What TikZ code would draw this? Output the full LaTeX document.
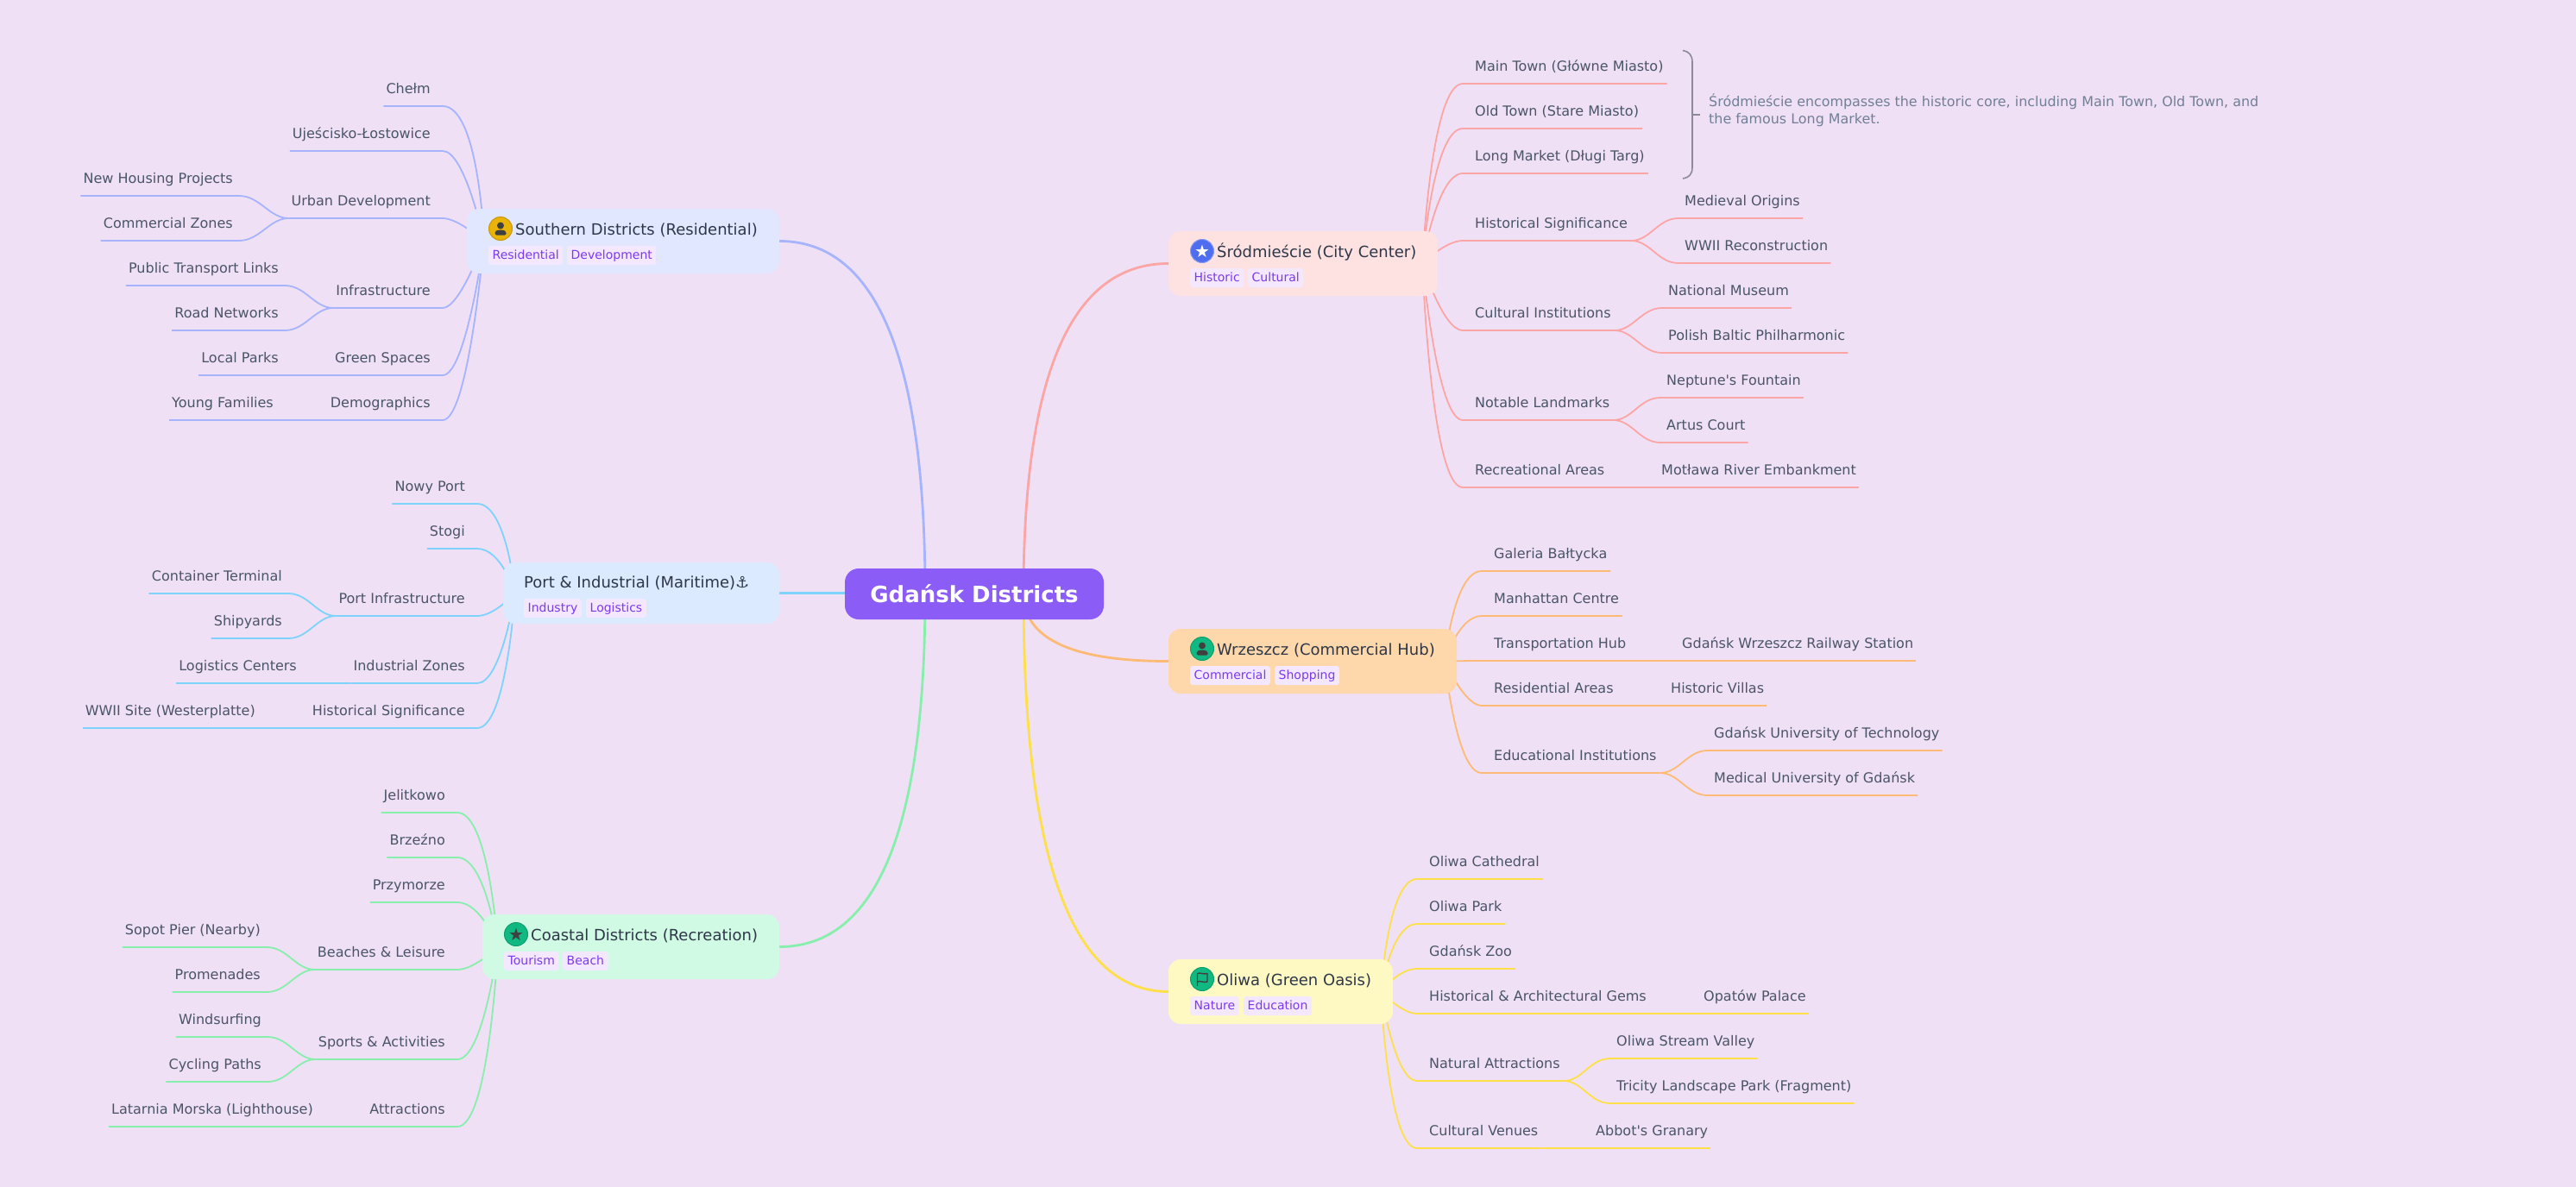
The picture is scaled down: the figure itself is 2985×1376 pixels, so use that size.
\documentclass[tikz,border=0pt]{standalone}
\usepackage{fontspec}
\setmainfont{DejaVu Sans}[Ligatures=TeXOff]
\usetikzlibrary{calc, backgrounds}

\definecolor{pg}{HTML}{F0E0F5}
\definecolor{rootc}{HTML}{8B5CF6}
\definecolor{hubtxt}{HTML}{2D3748}
\definecolor{leaftxt}{HTML}{4A5568}
\definecolor{notetxt}{HTML}{718096}
\definecolor{notebr}{HTML}{8A8A99}
\definecolor{tagbg}{HTML}{F3E8FF}
\definecolor{tagtxt}{HTML}{7C3AED}
\definecolor{lnsouth}{HTML}{A5B4FC}
\definecolor{lnport}{HTML}{7DD3FC}
\definecolor{lncoast}{HTML}{86EFAC}
\definecolor{lnsrod}{HTML}{FCA5A5}
\definecolor{lnwrz}{HTML}{FDBA74}
\definecolor{lnoli}{HTML}{FDE047}
\definecolor{bxsouth}{HTML}{E0E7FF}
\definecolor{bxport}{HTML}{DBEAFE}
\definecolor{bxcoast}{HTML}{D1FAE5}
\definecolor{bxsrod}{HTML}{FEE2E2}
\definecolor{bxwrz}{HTML}{FED7AA}
\definecolor{bxoli}{HTML}{FEF9C3}
\definecolor{icyel}{HTML}{EAB308}
\definecolor{icgrn}{HTML}{10B981}
\definecolor{icblu}{HTML}{4F6EEF}
\definecolor{icdark}{HTML}{404040}

\tikzset{ lf/.style = { inner sep    = 0pt
                      , text = leaftxt
                      , text height  = 13pt
                      , text depth   = 14.4pt
                      , font = \fontsize{16}{19}\selectfont
                      },
          lr/.style = { lf
                      , anchor = south west
                      , execute at begin node = \hspace{14pt}
                      , execute at end node   = \hspace{4pt}
                      },
          ll/.style = { lf
                      , anchor = south east
                      , execute at begin node = \hspace{3pt}
                      , execute at end node   = \hspace{14pt}
                      },
          sr/.style = { lf
                      , anchor = south west
                      , execute at begin node = \hspace{7pt}
                      , execute at end node   = \hspace{3pt}
                      },
          sl/.style = { lf
                      , anchor = south east
                      , execute at begin node = \hspace{3pt}
                      , execute at end node   = \hspace{7pt}
                      },
          hb/.style = { rectangle
                      , rounded corners = 14pt
                      , inner sep    = 0pt
                      },
          ht/.style = { anchor = base west
                      , inner sep    = 0pt
                      , text = hubtxt
                      , font = \fontsize{18}{22}\selectfont
                      },
          tg/.style = { anchor = west
                      , fill = tagbg
                      , text = tagtxt
                      , rounded corners = 3pt
                      , inner xsep   = 4.5pt
                      , inner ysep   = 4.5pt
                      , text height  = 11pt
                      , text depth   = 2pt
                      , font = \fontsize{14}{17}\selectfont
                      },
          ic/.style = { circle
                      , draw, line width = 1pt
                      , inner sep    = 0pt
                      , minimum size = 27pt
                      },
          sb/.style = { line width = 1.8pt },
          ml/.style = { line width = 2.8pt },
          person/.pic = { \fill[icdark] (0,-3.5) circle (4);
                          \fill[icdark, rounded corners=1.5pt] (-6.5,7.5) -- (-6.5,3.5) -- (-3,1.5) -- (3,1.5) -- (6.5,3.5) -- (6.5,7.5) -- cycle;
                        },
          flag/.pic = { \draw[icdark, line width=1.4pt, line join=round]
                            (-5.5,8) -- (-5.5,-6.5) .. controls (-2,-8) and (1,-5) .. (6,-6.5)
                            -- (6,3) .. controls (1,4.5) and (-2,1.5) .. (-5.5,3);
                      }
        }

% curve out of a hub, then along the leaf
\newcommand{\lkR}[3][30]{\draw (#2S) .. controls (#2S) and ([xshift=-#1pt]#3.south west) .. (#3.south west) -- (#3.south east);}
\newcommand{\lkL}[3][30]{\draw (#2S) .. controls (#2S) and ([xshift=#1pt]#3.south east) .. (#3.south east) -- (#3.south west);}
\newcommand{\subR}[2]{\draw (#1.south east) .. controls ([xshift=22pt]#1.south east) and ([xshift=-24pt]#2.south west) .. (#2.south west) -- (#2.south east);}
\newcommand{\subL}[2]{\draw (#1.south west) .. controls ([xshift=-22pt]#1.south west) and ([xshift=24pt]#2.south east) .. (#2.south east) -- (#2.south west);}
\newcommand{\mlk}[3]{\draw[ml, #1] (#2) .. controls ($(#2)!.667!(#2|-#3)$) and ($(#3)!.667!(#2|-#3)$) .. (#3);}

\begin{document}
\begin{tikzpicture}[x=1pt, y=-1pt]
\begin{pgfonlayer}{background}
  \path[use as bounding box, fill=pg] (0,0) rectangle (2985,1376);
\end{pgfonlayer}

\node[rectangle, rounded corners=16pt, fill=rootc, text=white, inner sep=0pt, minimum width=300pt, minimum height=59pt, font=\fontsize{26}{31}\selectfont\bfseries] (root) at (1129,688.5) {Gdańsk Districts};
\coordinate (rootL) at (1072,688);
\coordinate (rootR) at (1186,688);

% hubs
\node[hb, fill=bxsouth, minimum width=362pt, minimum height=75pt] (south) at (722,279.5) {};
\node[hb, fill=bxport,  minimum width=320pt, minimum height=71pt] (port)  at (743,687.5) {};
\node[hb, fill=bxcoast, minimum width=344pt, minimum height=75pt] (coast) at (731,1097.5) {};
\node[hb, fill=bxsrod,  minimum width=312pt, minimum height=75pt] (srod)  at (1510,305.5) {};
\node[hb, fill=bxwrz,   minimum width=334pt, minimum height=75pt] (wrz)   at (1521,766.5) {};
\node[hb, fill=bxoli,   minimum width=260pt, minimum height=75pt] (oli)   at (1484,1149.5) {};
\coordinate (southS) at ([xshift=20pt]south.west);
\coordinate (portS)  at ([xshift=14pt]port.west);
\coordinate (coastS) at ([xshift=18pt]coast.west);
\coordinate (srodS)  at ([xshift=-18pt]srod.east);
\coordinate (wrzS)   at ([xshift=-14pt]wrz.east);
\coordinate (oliS)   at ([xshift=-14pt]oli.east);

\node[ic, fill=icyel, draw=icyel!85!black] (southic) at (580,265) {};
\pic at (southic) {person};
\node[ht] (southt) at (597,272) {Southern Districts (Residential)};
\node[tg] (south1) at (566,296) {Residential};
\node[tg] (south2) at (657,296) {Development};

\node[ht] (portt) at (607,681) {Port \& Industrial (Maritime)⚓};
\node[tg] (port1) at (607,705) {Industry};
\node[tg] (port2) at (679,705) {Logistics};

\node[ic, fill=icgrn, draw=icgrn!85!black, text=icdark, font=\fontsize{20}{20}\selectfont] (coastic) at (598,1083) {★};
\node[ht] (coastt) at (615,1090) {Coastal Districts (Recreation)};
\node[tg] (coast1) at (584,1114) {Tourism};
\node[tg] (coast2) at (652,1114) {Beach};

\node[ic, fill=icblu, draw=icblu!70!white, text=white, font=\fontsize{20}{20}\selectfont] (srodic) at (1393,291) {★};
\node[ht] (srodt) at (1410,298) {Śródmieście (City Center)};
\node[tg] (srod1) at (1379,322) {Historic};
\node[tg] (srod2) at (1446,322) {Cultural};

\node[ic, fill=icgrn, draw=icgrn!85!black] (wrzic) at (1393,752) {};
\pic at (wrzic) {person};
\node[ht] (wrzt) at (1410,759) {Wrzeszcz (Commercial Hub)};
\node[tg] (wrz1) at (1379,783) {Commercial};
\node[tg] (wrz2) at (1477,783) {Shopping};

\node[ic, fill=icgrn, draw=icgrn!85!black] (oliic) at (1393,1135) {};
\pic at (oliic) {flag};
\node[ht] (olit) at (1410,1142) {Oliwa (Green Oasis)};
\node[tg] (oli1) at (1379,1166) {Nature};
\node[tg] (oli2) at (1441,1166) {Education};

% southern districts
\node[ll] (chelm) at (513,123) {Chełm};
\node[ll] (ujes)  at (513,175) {Ujeścisko-Łostowice};
\node[ll] (urban) at (513,253) {Urban Development};
\node[ll] (infra) at (513,357) {Infrastructure};
\node[ll] (green) at (513,435) {Green Spaces};
\node[ll] (demo)  at (513,487) {Demographics};
\node[sl] (newh)  at (277,227) {New Housing Projects};
\node[sl] (comz)  at (277,279) {Commercial Zones};
\node[sl] (pubt)  at (330,331) {Public Transport Links};
\node[sl] (road)  at (330,383) {Road Networks};
\node[sl] (parks) at (330,435) {Local Parks};
\node[sl] (young) at (324,487) {Young Families};

% port
\node[ll] (nowy)  at (553,584) {Nowy Port};
\node[ll] (stogi) at (553,636) {Stogi};
\node[ll] (pinf)  at (553,714) {Port Infrastructure};
\node[ll] (indz)  at (553,792) {Industrial Zones};
\node[ll] (hist)  at (553,844) {Historical Significance};
\node[sl] (cont)  at (334,688) {Container Terminal};
\node[sl] (ship)  at (334,740) {Shipyards};
\node[sl] (logc)  at (351,792) {Logistics Centers};
\node[sl] (west)  at (303,844) {WWII Site (Westerplatte)};

% coast
\node[ll] (jeli)  at (530,942) {Jelitkowo};
\node[ll] (brze)  at (530,994) {Brzeźno};
\node[ll] (przy)  at (530,1046) {Przymorze};
\node[ll] (beach) at (530,1124) {Beaches \& Leisure};
\node[ll] (sport) at (530,1228) {Sports \& Activities};
\node[ll] (attr)  at (530,1306) {Attractions};
\node[sl] (sopot) at (309,1098) {Sopot Pier (Nearby)};
\node[sl] (prom)  at (309,1150) {Promenades};
\node[sl] (wind)  at (310,1202) {Windsurfing};
\node[sl] (cycl)  at (310,1254) {Cycling Paths};
\node[sl] (lata)  at (370,1306) {Latarnia Morska (Lighthouse)};

% srodmiescie
\node[lr] (main)  at (1695,97) {Main Town (Główne Miasto)};
\node[lr] (old)   at (1695,149) {Old Town (Stare Miasto)};
\node[lr] (long)  at (1695,201) {Long Market (Długi Targ)};
\node[lr] (hsig)  at (1695,279) {Historical Significance};
\node[lr] (cinst) at (1695,383) {Cultural Institutions};
\node[lr] (land)  at (1695,487) {Notable Landmarks};
\node[lr] (recr)  at (1695,565) {Recreational Areas};
\node[sr] (medi)  at (1945,253) {Medieval Origins};
\node[sr] (recon) at (1945,305) {WWII Reconstruction};
\node[sr] (natm)  at (1926,357) {National Museum};
\node[sr] (phil)  at (1926,409) {Polish Baltic Philharmonic};
\node[sr] (nept)  at (1924,461) {Neptune's Fountain};
\node[sr] (artus) at (1924,513) {Artus Court};
\node[sr] (motl)  at (1918,565) {Motława River Embankment};

% wrzeszcz
\node[lr] (gal)   at (1717,662) {Galeria Bałtycka};
\node[lr] (manh)  at (1717,714) {Manhattan Centre};
\node[lr] (trans) at (1717,766) {Transportation Hub};
\node[lr] (resa)  at (1717,818) {Residential Areas};
\node[lr] (edu)   at (1717,896) {Educational Institutions};
\node[sr] (rail)  at (1942,766) {Gdańsk Wrzeszcz Railway Station};
\node[sr] (vill)  at (1929,818) {Historic Villas};
\node[sr] (univ)  at (1979,870) {Gdańsk University of Technology};
\node[sr] (medu)  at (1979,922) {Medical University of Gdańsk};

% oliwa
\node[lr] (cath)  at (1642,1019) {Oliwa Cathedral};
\node[lr] (opark) at (1642,1071) {Oliwa Park};
\node[lr] (zoo)   at (1642,1123) {Gdańsk Zoo};
\node[lr] (gems)  at (1642,1175) {Historical \& Architectural Gems};
\node[lr] (natur) at (1642,1253) {Natural Attractions};
\node[lr] (venue) at (1642,1331) {Cultural Venues};
\node[sr] (opat)  at (1967,1175) {Opatów Palace};
\node[sr] (strm)  at (1866,1227) {Oliwa Stream Valley};
\node[sr] (tric)  at (1866,1279) {Tricity Landscape Park (Fragment)};
\node[sr] (abbot) at (1842,1331) {Abbot's Granary};

% summary
\node[anchor=north west, align=left, inner sep=0pt, text=notetxt, font=\fontsize{15.9}{19.5}\selectfont] (note) at (1980,109) {Śródmieście encompasses the historic core, including Main Town, Old Town, and\\the famous Long Market.};
\coordinate (brtop) at (1950,58.5);
\coordinate (brbot) at (1950,207);
\coordinate (brmid) at (1961,133);
\draw[notebr, line width=1.6pt] (brtop) .. controls (1957,59.5) and (1961,64) .. (1961,72) -- (1961,194) .. controls (1961,202) and (1957,206) .. (brbot);
\draw[notebr, line width=1.6pt] (brmid) -- (1970,133);

\begin{pgfonlayer}{background}
  \mlk{lnsouth}{rootL}{south.east}
  \mlk{lnport}{rootL}{port.east}
  \mlk{lncoast}{rootL}{coast.east}
  \mlk{lnsrod}{rootR}{srod.west}
  \mlk{lnwrz}{rootR}{wrz.west}
  \mlk{lnoli}{rootR}{oli.west}

  \begin{scope}[sb, lnsouth]
    \lkL[42]{south}{chelm} \lkL[26]{south}{ujes} \lkL[18]{south}{urban}
    \lkL[20]{south}{infra} \lkL[27]{south}{green} \lkL[30]{south}{demo}
    \subL{urban}{newh} \subL{urban}{comz} \subL{infra}{pubt} \subL{infra}{road}
    \subL{green}{parks} \subL{demo}{young}
  \end{scope}
  \begin{scope}[sb, lnport]
    \lkL[34]{port}{nowy} \lkL[28]{port}{stogi} \lkL[20]{port}{pinf}
    \lkL[28]{port}{indz} \lkL[34]{port}{hist}
    \subL{pinf}{cont} \subL{pinf}{ship} \subL{indz}{logc} \subL{hist}{west}
  \end{scope}
  \begin{scope}[sb, lncoast]
    \lkL[37]{coast}{jeli} \lkL[33]{coast}{brze} \lkL[28]{coast}{przy}
    \lkL[20]{coast}{beach} \lkL[30]{coast}{sport} \lkL[37]{coast}{attr}
    \subL{beach}{sopot} \subL{beach}{prom} \subL{sport}{wind} \subL{sport}{cycl}
    \subL{attr}{lata}
  \end{scope}
  \begin{scope}[sb, lnsrod]
    \lkR[37]{srod}{main} \lkR[35]{srod}{old} \lkR[30]{srod}{long}
    \lkR[20]{srod}{hsig} \lkR[23]{srod}{cinst} \lkR[30]{srod}{land} \lkR[37]{srod}{recr}
    \subR{hsig}{medi} \subR{hsig}{recon} \subR{cinst}{natm} \subR{cinst}{phil}
    \subR{land}{nept} \subR{land}{artus} \subR{recr}{motl}
  \end{scope}
  \begin{scope}[sb, lnwrz]
    \lkR[33]{wrz}{gal} \lkR[27]{wrz}{manh} \lkR[20]{wrz}{trans}
    \lkR[20]{wrz}{resa} \lkR[30]{wrz}{edu}
    \subR{trans}{rail} \subR{resa}{vill} \subR{edu}{univ} \subR{edu}{medu}
  \end{scope}
  \begin{scope}[sb, lnoli]
    \lkR[34]{oli}{cath} \lkR[30]{oli}{opark} \lkR[22]{oli}{zoo}
    \lkR[18]{oli}{gems} \lkR[26]{oli}{natur} \lkR[34]{oli}{venue}
    \subR{gems}{opat} \subR{natur}{strm} \subR{natur}{tric} \subR{venue}{abbot}
  \end{scope}
\end{pgfonlayer}
\end{tikzpicture}
\end{document}
